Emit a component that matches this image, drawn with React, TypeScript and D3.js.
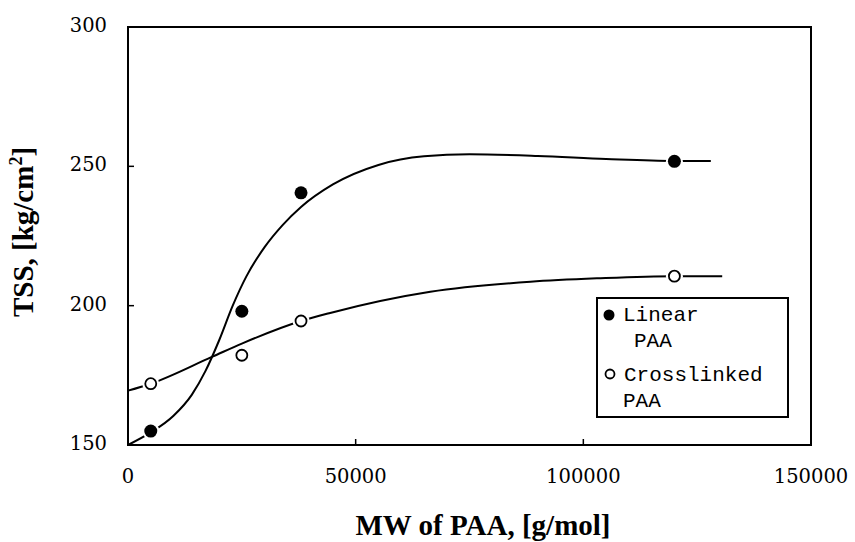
import React from "react";
import * as d3 from "d3";

const xTicks = [0, 50000, 100000, 150000];
const yTicks = [150, 200, 250, 300];

const mwValues = [5000, 25000, 38000, 120000];
const linearTSS = [155, 198, 240.5, 251.8];
const crosslinkedTSS = [172, 182.2, 194.5, 210.6];

const linearFitX = [0, 5000, 10000, 14000, 17000, 20000, 23000, 26000, 30000, 34000, 38000, 45000, 55000, 65000, 75000, 90000, 105000, 120000, 128000];
const linearFitY = [150, 154.5, 160.5, 168, 176.5, 187.5, 200, 210.5, 221, 229, 235.4, 243.5, 250.5, 253.6, 254.3, 253.7, 252.6, 251.9, 251.9];

const crossFitX = [0, 5000, 18400, 25000, 38000, 44400, 66400, 88400, 103000, 120000, 130500];
const crossFitY = [169.5, 172, 181.6, 186.4, 194.5, 197.4, 205, 208.6, 209.8, 210.6, 210.6];

const legendLabels = [["Linear", "PAA"], ["Crosslinked", "PAA"]];

export default function App() {
  const W = 855, H = 542;
  const left = 128, right = 811, top = 27, bottom = 445;
  const x = d3.scaleLinear().domain([0, 150000]).range([left, right]);
  const y = d3.scaleLinear().domain([150, 300]).range([bottom, top]);

  const line = d3
    .line<[number, number]>()
    .x((d) => x(d[0]))
    .y((d) => y(d[1]))
    .curve(d3.curveMonotoneX);

  const linPath = line(linearFitX.map((v, i) => [v, linearFitY[i]] as [number, number])) || "";
  const crossPath = line(crossFitX.map((v, i) => [v, crossFitY[i]] as [number, number])) || "";

  const tickFont = "DejaVu Serif";
  const titleFont = "Liberation Serif";
  const monoFont = "Liberation Mono";

  return (
    <svg width={W} height={H} style={{ position: "absolute", left: 0, top: 0, background: "#fff" }}>
      <rect x={0} y={0} width={W} height={H} fill="#fff" />
      {/* curves */}
      <path d={crossPath} fill="none" stroke="#000" strokeWidth={2} />
      <path d={linPath} fill="none" stroke="#000" strokeWidth={2} />

      {/* markers with white halo */}
      {mwValues.map((m, i) => (
        <g key={"l" + i}>
          <circle cx={x(m)} cy={y(linearTSS[i])} r={8.5} fill="#fff" />
          <circle cx={x(m)} cy={y(linearTSS[i])} r={6.5} fill="#000" />
        </g>
      ))}
      {mwValues.map((m, i) => (
        <g key={"c" + i}>
          <circle cx={x(m)} cy={y(crosslinkedTSS[i])} r={8.5} fill="#fff" />
          <circle cx={x(m)} cy={y(crosslinkedTSS[i])} r={5.5} fill="#fff" stroke="#000" strokeWidth={1.8} />
        </g>
      ))}

      {/* frame */}
      <rect x={left} y={top} width={right - left} height={bottom - top} fill="none" stroke="#000" strokeWidth={2} />

      {/* ticks */}
      {xTicks.slice(1, -1).map((t) => (
        <line key={"xt" + t} x1={x(t)} x2={x(t)} y1={bottom} y2={bottom - 6} stroke="#000" strokeWidth={1.5} />
      ))}
      {yTicks.slice(1, -1).map((t) => (
        <line key={"yt" + t} x1={left} x2={left + 6} y1={y(t)} y2={y(t)} stroke="#000" strokeWidth={1.5} />
      ))}

      {/* tick labels */}
      {xTicks.map((t) => (
        <text key={"xl" + t} x={x(t)} y={483} textAnchor="middle" fontFamily={tickFont} fontSize={19.5} fill="#000">
          {t}
        </text>
      ))}
      {yTicks.map((t) => (
        <text key={"yl" + t} x={107} y={y(t) + 5} textAnchor="end" fontFamily={tickFont} fontSize={19.5} fill="#000">
          {t}
        </text>
      ))}

      {/* axis titles */}
      <text x={483} y={535} textAnchor="middle" fontFamily={titleFont} fontWeight="bold" fontSize={29} fill="#000">
        MW of PAA, [g/mol]
      </text>
      <text
        transform={`translate(33, 232) rotate(-90)`}
        textAnchor="middle"
        fontFamily={titleFont}
        fontWeight="bold"
        fontSize={29}
        fill="#000"
      >
        TSS, [kg/cm<tspan dy={-11} fontSize={18}>2</tspan>
        <tspan dy={11}>]</tspan>
      </text>

      {/* legend */}
      <rect x={597} y={298} width={191} height={119} fill="#fff" stroke="#000" strokeWidth={2} />
      <circle cx={609} cy={315} r={5.5} fill="#000" />
      <text x={623} y={321} fontFamily={monoFont} fontSize={21} fill="#000">{legendLabels[0][0]}</text>
      <text x={634} y={347} fontFamily={monoFont} fontSize={21} fill="#000">{legendLabels[0][1]}</text>
      <circle cx={610} cy={374} r={4.5} fill="#fff" stroke="#000" strokeWidth={1.8} />
      <text x={624} y={381} fontFamily={monoFont} fontSize={21} fill="#000">{legendLabels[1][0]}</text>
      <text x={623} y={407} fontFamily={monoFont} fontSize={21} fill="#000">{legendLabels[1][1]}</text>
    </svg>
  );
}
